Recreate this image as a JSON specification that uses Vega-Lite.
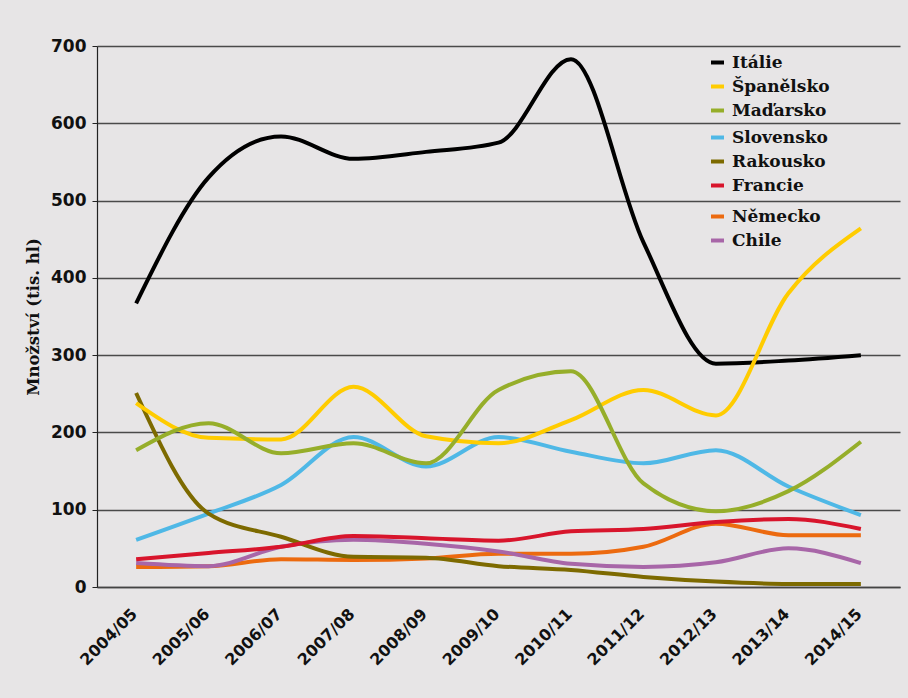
{
  "$schema": "https://vega.github.io/schema/vega-lite/v6.json",
  "autosize": {"type": "none"},
  "padding": {"left": 97, "top": 46, "right": 8, "bottom": 111},
  "width": 803,
  "height": 541,
  "background": "#e7e5e6",
  "config": {
    "view": {"stroke": null},
    "legend": {
      "orient": "none",
      "title": null,
      "padding": 0,
      "symbolType": "stroke",
      "symbolSize": 169,
      "symbolStrokeWidth": 4,
      "labelFont": "DejaVu Serif",
      "labelFontWeight": "bold",
      "labelFontSize": 17,
      "labelColor": "#111111",
      "labelOffset": 6,
      "rowPadding": 6
    }
  },
  "data": {
    "values": [
      {"season": "2004/05", "country": "Itálie", "value": 367},
      {"season": "2005/06", "country": "Itálie", "value": 530},
      {"season": "2006/07", "country": "Itálie", "value": 583},
      {"season": "2007/08", "country": "Itálie", "value": 554},
      {"season": "2008/09", "country": "Itálie", "value": 563},
      {"season": "2009/10", "country": "Itálie", "value": 575},
      {"season": "2010/11", "country": "Itálie", "value": 683},
      {"season": "2011/12", "country": "Itálie", "value": 446},
      {"season": "2012/13", "country": "Itálie", "value": 289},
      {"season": "2013/14", "country": "Itálie", "value": 293},
      {"season": "2014/15", "country": "Itálie", "value": 300},

      {"season": "2004/05", "country": "Španělsko", "value": 238},
      {"season": "2005/06", "country": "Španělsko", "value": 193},
      {"season": "2006/07", "country": "Španělsko", "value": 191},
      {"season": "2007/08", "country": "Španělsko", "value": 259},
      {"season": "2008/09", "country": "Španělsko", "value": 195},
      {"season": "2009/10", "country": "Španělsko", "value": 186},
      {"season": "2010/11", "country": "Španělsko", "value": 216},
      {"season": "2011/12", "country": "Španělsko", "value": 255},
      {"season": "2012/13", "country": "Španělsko", "value": 222},
      {"season": "2013/14", "country": "Španělsko", "value": 380},
      {"season": "2014/15", "country": "Španělsko", "value": 464},

      {"season": "2004/05", "country": "Maďarsko", "value": 177},
      {"season": "2005/06", "country": "Maďarsko", "value": 212},
      {"season": "2006/07", "country": "Maďarsko", "value": 173},
      {"season": "2007/08", "country": "Maďarsko", "value": 186},
      {"season": "2008/09", "country": "Maďarsko", "value": 160},
      {"season": "2009/10", "country": "Maďarsko", "value": 255},
      {"season": "2010/11", "country": "Maďarsko", "value": 279},
      {"season": "2011/12", "country": "Maďarsko", "value": 134},
      {"season": "2012/13", "country": "Maďarsko", "value": 98},
      {"season": "2013/14", "country": "Maďarsko", "value": 124},
      {"season": "2014/15", "country": "Maďarsko", "value": 188},

      {"season": "2004/05", "country": "Slovensko", "value": 61},
      {"season": "2005/06", "country": "Slovensko", "value": 95},
      {"season": "2006/07", "country": "Slovensko", "value": 132},
      {"season": "2007/08", "country": "Slovensko", "value": 194},
      {"season": "2008/09", "country": "Slovensko", "value": 156},
      {"season": "2009/10", "country": "Slovensko", "value": 194},
      {"season": "2010/11", "country": "Slovensko", "value": 175},
      {"season": "2011/12", "country": "Slovensko", "value": 160},
      {"season": "2012/13", "country": "Slovensko", "value": 177},
      {"season": "2013/14", "country": "Slovensko", "value": 130},
      {"season": "2014/15", "country": "Slovensko", "value": 93},

      {"season": "2004/05", "country": "Rakousko", "value": 251},
      {"season": "2005/06", "country": "Rakousko", "value": 95},
      {"season": "2006/07", "country": "Rakousko", "value": 65},
      {"season": "2007/08", "country": "Rakousko", "value": 39},
      {"season": "2008/09", "country": "Rakousko", "value": 38},
      {"season": "2009/10", "country": "Rakousko", "value": 27},
      {"season": "2010/11", "country": "Rakousko", "value": 22},
      {"season": "2011/12", "country": "Rakousko", "value": 13},
      {"season": "2012/13", "country": "Rakousko", "value": 7},
      {"season": "2013/14", "country": "Rakousko", "value": 4},
      {"season": "2014/15", "country": "Rakousko", "value": 4},

      {"season": "2004/05", "country": "Francie", "value": 36},
      {"season": "2005/06", "country": "Francie", "value": 44},
      {"season": "2006/07", "country": "Francie", "value": 52},
      {"season": "2007/08", "country": "Francie", "value": 66},
      {"season": "2008/09", "country": "Francie", "value": 63},
      {"season": "2009/10", "country": "Francie", "value": 60},
      {"season": "2010/11", "country": "Francie", "value": 72},
      {"season": "2011/12", "country": "Francie", "value": 75},
      {"season": "2012/13", "country": "Francie", "value": 84},
      {"season": "2013/14", "country": "Francie", "value": 88},
      {"season": "2014/15", "country": "Francie", "value": 75},

      {"season": "2004/05", "country": "Německo", "value": 26},
      {"season": "2005/06", "country": "Německo", "value": 27},
      {"season": "2006/07", "country": "Německo", "value": 36},
      {"season": "2007/08", "country": "Německo", "value": 35},
      {"season": "2008/09", "country": "Německo", "value": 37},
      {"season": "2009/10", "country": "Německo", "value": 43},
      {"season": "2010/11", "country": "Německo", "value": 43},
      {"season": "2011/12", "country": "Německo", "value": 52},
      {"season": "2012/13", "country": "Německo", "value": 82},
      {"season": "2013/14", "country": "Německo", "value": 67},
      {"season": "2014/15", "country": "Německo", "value": 67},

      {"season": "2004/05", "country": "Chile", "value": 31},
      {"season": "2005/06", "country": "Chile", "value": 27},
      {"season": "2006/07", "country": "Chile", "value": 52},
      {"season": "2007/08", "country": "Chile", "value": 61},
      {"season": "2008/09", "country": "Chile", "value": 56},
      {"season": "2009/10", "country": "Chile", "value": 46},
      {"season": "2010/11", "country": "Chile", "value": 30},
      {"season": "2011/12", "country": "Chile", "value": 26},
      {"season": "2012/13", "country": "Chile", "value": 32},
      {"season": "2013/14", "country": "Chile", "value": 50},
      {"season": "2014/15", "country": "Chile", "value": 31}
    ]
  },
  "encoding": {
    "x": {
      "field": "season",
      "type": "ordinal",
      "scale": {"type": "point", "padding": 0.54},
      "axis": {
        "title": null,
        "labelAngle": -45,
        "labelAlign": "right",
        "labelBaseline": "middle",
        "labelPadding": 24,
        "labelOffset": -2,
        "labelFont": "DejaVu Sans",
        "labelFontWeight": "bold",
        "labelFontSize": 16,
        "labelColor": "#111111",
        "ticks": false,
        "domainColor": "#444444",
        "domainWidth": 1.5,
        "grid": false
      }
    },
    "y": {
      "field": "value",
      "type": "quantitative",
      "scale": {"domain": [0, 700], "nice": false},
      "axis": {
        "title": "Množství (tis. hl)",
        "titleFont": "DejaVu Serif",
        "titleFontWeight": "bold",
        "titleFontSize": 16.5,
        "titleColor": "#111111",
        "titlePadding": 9,
        "values": [0, 100, 200, 300, 400, 500, 600, 700],
        "labelFont": "DejaVu Sans",
        "labelFontWeight": "bold",
        "labelFontSize": 17,
        "labelColor": "#111111",
        "labelPadding": 6,
        "tickSize": 5,
        "tickColor": "#222222",
        "domainColor": "#222222",
        "domainWidth": 1.2,
        "grid": true,
        "gridColor": "#4a4a4a",
        "gridWidth": 1.3
      }
    }
  },
  "layer": [
    {
      "transform": [{"filter": {"field": "country", "oneOf": ["Německo", "Chile"]}}],
      "mark": {"type": "line", "interpolate": "monotone", "strokeWidth": 4},
      "encoding": {
        "color": {
          "field": "country",
          "type": "nominal",
          "scale": {"domain": ["Německo", "Chile"], "range": ["#ec6a0f", "#a866a8"]},
          "legend": {"legendX": 612, "legendY": 162}
        }
      }
    },
    {
      "transform": [{"filter": {"field": "country", "oneOf": ["Slovensko", "Rakousko", "Francie"]}}],
      "mark": {"type": "line", "interpolate": "monotone", "strokeWidth": 4},
      "encoding": {
        "color": {
          "field": "country",
          "type": "nominal",
          "scale": {"domain": ["Slovensko", "Rakousko", "Francie"], "range": ["#4fb8e6", "#7d6a00", "#d8152c"]},
          "legend": {"legendX": 612, "legendY": 83}
        }
      }
    },
    {
      "transform": [{"filter": {"field": "country", "oneOf": ["Itálie", "Španělsko", "Maďarsko"]}}],
      "mark": {"type": "line", "interpolate": "monotone", "strokeWidth": 4},
      "encoding": {
        "color": {
          "field": "country",
          "type": "nominal",
          "scale": {"domain": ["Itálie", "Španělsko", "Maďarsko"], "range": ["#000000", "#ffcc00", "#96ae2a"]},
          "legend": {"legendX": 612, "legendY": 8}
        }
      }
    }
  ],
  "resolve": {"scale": {"color": "independent"}, "legend": {"color": "independent"}}
}
